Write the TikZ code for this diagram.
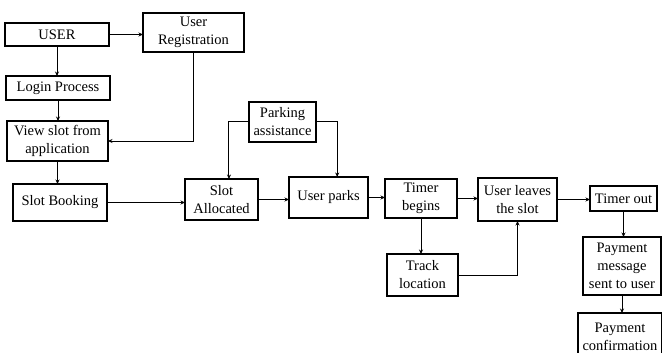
\documentclass[tikz,border=0pt]{standalone}
\usepackage{fontspec}
\setmainfont{Liberation Serif}
\usepackage{tikz}
\usetikzlibrary{shapes, arrows, arrows.meta, positioning}

\begin{document}
\begin{tikzpicture}[every node/.style={outer sep=0pt}]
\tikzstyle{block}=[draw, line width=1.1pt, align=center, inner sep=1pt, font=\fontsize{14.5}{18}\selectfont]

\tikzstyle{arrow}=[line width=1pt, -{Stealth[length=4.5pt,width=4pt]}]

\useasboundingbox (0,0) rectangle (662pt,-353pt);

% left column
\node (user) [block, minimum width=104pt, minimum height=23pt] at (57pt,-34.5pt) {USER};
\node (reg) [block, minimum width=101pt, minimum height=39pt] at (193.5pt,-32.5pt) {User\\Registration};
\node (login) [block, minimum width=104pt, minimum height=24pt] at (58pt,-88pt) {Login Process};
\node (view) [block, minimum width=101pt, minimum height=40pt] at (57.5pt,-141pt) {View slot from\\application};
\node (booking) [block, minimum width=94pt, minimum height=37pt] at (60pt,-202.5pt) {Slot Booking};

% middle row
\node (alloc) [block, minimum width=73pt, minimum height=41pt] at (221.5pt,-199.5pt) {Slot\\Allocated};
\node (assist) [block, minimum width=67pt, minimum height=40pt] at (282.5pt,-122pt) {Parking\\assistance};
\node (parks) [block, minimum width=79pt, minimum height=41pt] at (328.5pt,-197.5pt) {User parks};
\node (timer) [block, minimum width=72pt, minimum height=39pt] at (421pt,-198.5pt) {Timer\\begins};
\node (track) [block, minimum width=71pt, minimum height=42pt] at (422.5pt,-275pt) {Track\\location};
\node (leaves) [block, minimum width=79pt, minimum height=43pt] at (517.5pt,-199.5pt) {User leaves\\the slot};

% right column
\node (tout) [block, minimum width=67pt, minimum height=25pt] at (623.5pt,-198.5pt) {Timer out};
\node (paymsg) [block, minimum width=78pt, minimum height=58pt] at (622pt,-266pt) {Payment\\message\\sent to user};
\node (payconf) [block, minimum width=84pt, minimum height=47pt] at (620pt,-336.5pt) {Payment\\confirmation};

\draw [arrow] (user.south) -- (user.south |- login.north);
\draw [arrow] (user.east) -- (user.east -| reg.west);
\draw [arrow] (reg.south) |- (view.east);
\draw [arrow] (login.south) -- (login.south |- view.north);
\draw [arrow] (view.south) -- (view.south |- booking.north);
\draw [arrow] (booking.east) -- (booking.east -| alloc.west);

\draw [arrow] (assist.west) -| (alloc.70);
\draw [arrow] (assist.east) -| (parks.67);
\draw [arrow] (alloc.east) -- (alloc.east -| parks.west);
\draw [arrow] (parks.east) -- (parks.east -| timer.west);
\draw [arrow] (timer.east) -- (timer.east -| leaves.west);
\draw [arrow] (timer.south) -- (timer.south |- track.north);
\draw [arrow] (track.east) -| (leaves.south);
\draw [arrow] (leaves.east) -- (leaves.east -| tout.west);

\draw [arrow] (tout.south) -- (tout.south |- paymsg.north);
\draw [arrow] (paymsg.south) -- (paymsg.south |- payconf.north);

\end{tikzpicture}
\end{document}
